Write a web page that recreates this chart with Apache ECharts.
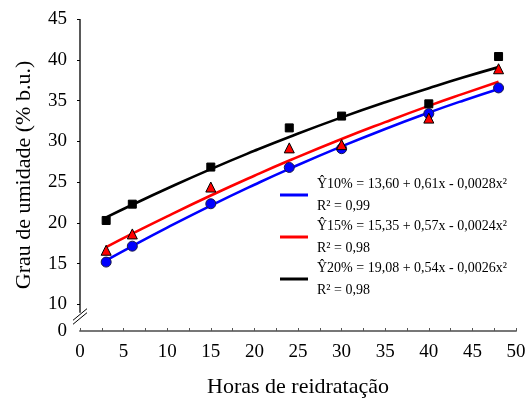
<!DOCTYPE html>
<html><head><meta charset="utf-8">
<script src="https://cdn.jsdelivr.net/npm/echarts@6/dist/echarts.min.js"></script>
<style>html,body{margin:0;padding:0;background:#fff}#c{width:531px;height:403px}</style>
</head><body><div id="c"></div>
<script>
// measured points
const hours = [3, 6, 15, 24, 30, 40, 48];
const pts10 = [15.2, 17.15, 22.35, 26.8, 29.1, 33.4, 36.55];
const pts15 = [16.65, 18.65, 24.4, 29.2, 29.6, 32.85, 38.9];
const pts20 = [20.3, 22.3, 26.85, 31.65, 33.1, 34.6, 40.4];
// fitted curves
const fitHours = [3, 6, 10, 15, 20, 24, 30, 35, 40, 44, 48];
const fit10 = [15.40, 17.16, 19.42, 22.12, 24.68, 26.63, 29.38, 31.52, 33.52, 35.02, 36.43];
const fit15 = [17.04, 18.68, 20.81, 23.36, 25.79, 27.65, 30.29, 32.36, 34.35, 35.85, 37.3];
const fit20 = [20.68, 22.23, 24.22, 26.60, 28.84, 30.54, 32.94, 34.80, 36.52, 37.85, 39.1];
// legend texts
const seriesNames = ['10%', '15%', '20%'];
const eqLabels = ['Ŷ10% = 13,60 + 0,61x - 0,0028x²', 'Ŷ15% = 15,35 + 0,57x - 0,0024x²', 'Ŷ20% = 19,08 + 0,54x - 0,0026x²'];
const r2Labels = ['R² = 0,99', 'R² = 0,98', 'R² = 0,98'];
// axis ticks
const yTicks = [10, 15, 20, 25, 30, 35, 40, 45];
const yBreakValue = 6.75; // bottom of broken axis, labelled "0"
const yBreakLabel = '0';

(function () {
const FONT = '"Liberation Serif", "Times New Roman", serif';
const colors = ['#0000ff', '#ff0000', '#000000'];
const chart = echarts.init(document.getElementById('c'));
const zip = (xs, ys) => xs.map((x, i) => [x, ys[i]]);

const lineSeries = [fit10, fit15, fit20].map((d, i) => ({
  name: seriesNames[i], type: 'line', smooth: true, showSymbol: false, symbol: 'none',
  data: zip(fitHours, d), lineStyle: { color: colors[i], width: 2.6 }, itemStyle: { color: colors[i] },
  z: 2, silent: true
}));
const markerDefs = [
  { d: pts10, symbol: 'circle', size: 10, color: '#0000ff', border: '#1a1a4a' },
  { d: pts15, symbol: 'triangle', size: 10, color: '#ff0000', border: '#000' },
  { d: pts20, symbol: 'rect', size: 8, color: '#000', border: '#000' }
];
const scatterSeries = markerDefs.map((m) => ({
  type: 'scatter', data: zip(hours, m.d), symbol: m.symbol, symbolSize: m.size,
  itemStyle: { color: m.color, borderColor: m.border, borderWidth: 1, opacity: 1 }, z: 3
}));

chart.setOption({
  animation: false,
  backgroundColor: '#fff',
  textStyle: { fontFamily: FONT },
  grid: { left: 80, right: 15, top: 19, bottom: 71, containLabel: false },
  legend: {
    orient: 'vertical', left: 280, top: 177, padding: 0, itemGap: 6,
    icon: 'rect', itemWidth: 28, itemHeight: 3,
    data: seriesNames,
    formatter: (name) => {
      const i = seriesNames.indexOf(name);
      return '{a|' + eqLabels[i] + '}\n{a|' + r2Labels[i] + '}';
    },
    textStyle: {
      padding: [0, 0, 0, 4],
      rich: { a: { fontFamily: FONT, fontSize: 14, lineHeight: 22, color: '#000' } }
    }
  },
  xAxis: {
    type: 'value', min: 0, max: 50, interval: 5,
    name: 'Horas de reidratação', nameLocation: 'middle', nameGap: 45,
    nameTextStyle: { fontFamily: FONT, fontSize: 22, color: '#000' },
    axisLine: { show: true, onZero: false, lineStyle: { color: '#777', width: 2 } },
    axisTick: { show: true, inside: true, length: 3, lineStyle: { color: '#555', width: 1 } },
    minorTick: { show: true, splitNumber: 2, length: 3, lineStyle: { color: '#555', width: 1 } },
    axisLabel: { margin: 12, fontFamily: FONT, fontSize: 19, color: '#000' },
    splitLine: { show: false }
  },
  yAxis: {
    type: 'value', min: yBreakValue, max: 45,
    name: 'Grau de umidade (% b.u.)', nameLocation: 'middle', nameGap: 45,
    nameTextStyle: { fontFamily: FONT, fontSize: 22, color: '#000' },
    axisLine: { show: false },
    axisTick: { show: true, customValues: yTicks, length: 3, lineStyle: { color: '#000', width: 1 } },
    axisLabel: {
      customValues: [yBreakValue].concat(yTicks), margin: 13,
      fontFamily: FONT, fontSize: 19, color: '#000',
      formatter: (v) => (v < yTicks[0] ? yBreakLabel : String(v))
    },
    splitLine: { show: false }
  },
  series: lineSeries.concat(scatterSeries)
});

// y axis line (stops at the break) and the break marks
const pTop = chart.convertToPixel({ gridIndex: 0 }, [0, 45]);
const pLow = chart.convertToPixel({ gridIndex: 0 }, [0, 9.0]);
const pBrk = chart.convertToPixel({ gridIndex: 0 }, [0, 8.53]);
const ax = pTop[0];
const cy = pBrk[1];
chart.setOption({
  graphic: [
    { type: 'line', shape: { x1: ax, y1: pTop[1], x2: ax, y2: pLow[1] }, style: { stroke: '#000', lineWidth: 1.3 }, z: 5 },
    { type: 'line', shape: { x1: ax - 7, y1: cy - 2 + 5.8, x2: ax + 7, y2: cy - 2 - 5.8 }, style: { stroke: '#000', lineWidth: 1 }, z: 5 },
    { type: 'line', shape: { x1: ax - 7, y1: cy + 2 + 5.8, x2: ax + 7, y2: cy + 2 - 5.8 }, style: { stroke: '#000', lineWidth: 1 }, z: 5 }
  ]
});
})();
</script>
</body></html>
